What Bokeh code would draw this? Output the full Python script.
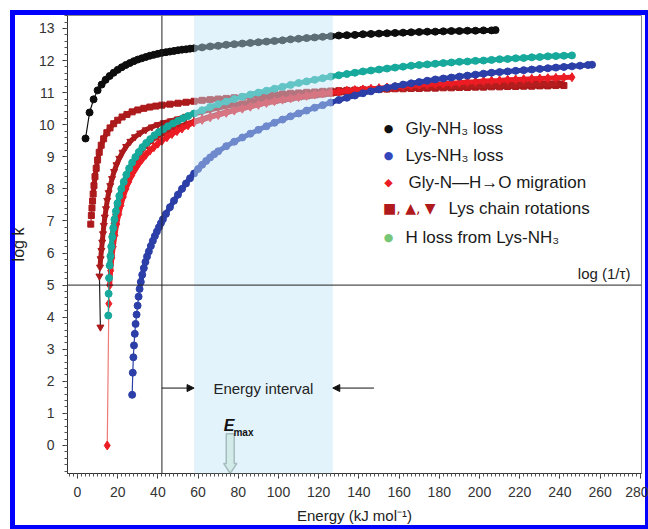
import math
from bokeh.plotting import figure
from bokeh.models import (Range1d, Span, BoxAnnotation, Label, Arrow, NormalHead,
                          PolyAnnotation, SingleIntervalTicker)
from bokeh.embed import file_html
from bokeh.resources import INLINE

# ---------------- data ----------------
# Gly-NH3 loss (black circles)
gly_nh3_E = [4, 6, 8, 10, 12, 14, 16, 18, 20, 22, 24, 26, 28, 30, 32, 34, 36, 38, 40, 42,
             44, 46, 48, 50, 52, 54, 56, 58,
             62, 66, 70, 74, 78, 82, 86, 90, 94, 98, 102, 106, 110, 114, 118, 122, 126, 130,
             134, 138, 142, 146, 150, 154, 158, 162, 166, 170, 174, 178, 182, 186, 190, 194,
             198, 202, 206, 208]
gly_nh3_logk = [9.57, 10.38, 10.79, 11.07, 11.25, 11.40, 11.52, 11.62, 11.71, 11.79,
                11.86, 11.92, 11.98, 12.03, 12.07, 12.11, 12.15, 12.18, 12.21, 12.24,
                12.26, 12.28, 12.30, 12.32, 12.34, 12.35, 12.37, 12.38,
                12.41, 12.44, 12.46, 12.49, 12.51, 12.53, 12.55, 12.57, 12.59, 12.61,
                12.63, 12.66, 12.68, 12.70, 12.72, 12.74, 12.76, 12.78, 12.79, 12.80,
                12.82, 12.83, 12.84, 12.85, 12.86, 12.87, 12.88, 12.89, 12.90, 12.90,
                12.91, 12.92, 12.92, 12.93, 12.93, 12.94, 12.94, 12.95]

# Lys-NH3 loss (blue circles)
lys_nh3_E = [27.2, 27.5, 27.8, 28.1, 28.5, 28.9, 29.4, 29.9, 30.4, 30.9, 31.5, 32.2, 33.0,
             33.8, 34.6, 35.5, 36.5, 37.5, 38.5, 39.5, 40.5, 41.5, 42.5,
             44, 46, 48, 50, 52, 54, 56, 58, 60, 62, 64, 66, 68, 70,
             74, 78, 82, 86, 90, 94, 98, 102, 106, 110, 114, 118, 122, 126, 130, 134, 138,
             142, 146, 150, 154, 158, 162, 166, 170, 174, 178, 182, 186, 190, 194, 198, 202,
             206, 210, 214, 218, 222, 226, 230, 234, 238, 242, 246, 250, 254, 256]
lys_nh3_logk = [1.58, 2.27, 2.75, 3.12, 3.48, 3.79, 4.08, 4.36, 4.64, 4.88, 5.10, 5.32, 5.53,
                5.72, 5.89, 6.05, 6.22, 6.38, 6.53, 6.67, 6.80, 6.93, 7.05,
                7.22, 7.43, 7.63, 7.82, 8.00, 8.17, 8.33, 8.48, 8.62, 8.75, 8.87, 8.98, 9.08, 9.17,
                9.33, 9.47, 9.60, 9.72, 9.84, 9.95, 10.06, 10.16, 10.26, 10.35, 10.44, 10.53,
                10.61, 10.69, 10.77, 10.84, 10.91, 10.98, 11.04, 11.10, 11.15, 11.20, 11.25,
                11.29, 11.33, 11.37, 11.41, 11.44, 11.47, 11.50, 11.53, 11.56, 11.59, 11.62,
                11.64, 11.66, 11.68, 11.70, 11.72, 11.74, 11.76, 11.78, 11.80, 11.82, 11.84,
                11.86, 11.87]

# Gly-N-H->O migration (red diamonds)
gly_nho_E = [14.8, 15.6, 16.0, 16.5, 17.1, 17.8, 18.6, 19.5, 20.5, 21.6, 22.8, 24.1, 25.5,
             27.0, 28.6, 30.3, 32.1, 34.0, 36.0, 38.0, 40.0, 42.0, 44.5, 47.0, 49.5, 52.0,
             55.0, 58.0,
             62, 66, 70, 74, 78, 82, 86, 90, 94, 98, 102, 106, 110, 114, 118, 122, 126, 130,
             134, 138, 142, 146, 150, 154, 158, 162, 166, 170, 174, 178, 182, 186, 190, 194,
             198, 202, 206, 210, 214, 218, 222, 226, 230, 234, 238, 242, 246]
gly_nho_logk = [0.00, 4.42, 5.00, 5.45, 5.85, 6.20, 6.55, 6.90, 7.20, 7.48, 7.75, 8.00, 8.22,
                8.42, 8.60, 8.77, 8.92, 9.06, 9.19, 9.30, 9.41, 9.50, 9.61, 9.71, 9.80, 9.88,
                9.98, 10.07,
                10.15, 10.23, 10.30, 10.37, 10.44, 10.50, 10.56, 10.62, 10.68, 10.73,
                10.78, 10.82, 10.86, 10.90, 10.94, 10.97, 11.00, 11.03, 11.06, 11.08,
                11.10, 11.12, 11.14, 11.16, 11.18, 11.20, 11.22, 11.24, 11.25, 11.27,
                11.28, 11.30, 11.31, 11.33, 11.34, 11.36, 11.37, 11.38, 11.40, 11.41,
                11.42, 11.43, 11.44, 11.45, 11.46, 11.47, 11.48]

# Lys chain rotations (dark red squares / down triangles / up triangles)
lys_rot_a_E = [6.6, 6.9, 7.2, 7.5, 7.8, 8.2, 8.7, 9.3, 10.0, 10.8, 11.8, 13.0, 14.6, 16.2,
               18.0, 20.0, 22.2, 24.6, 27.2, 30.0, 33.0, 36.0, 39.0, 42.0, 46, 50, 54, 58,
               62, 66, 70, 74, 78, 82, 86, 90, 94, 98, 102, 106, 110, 114, 118, 122, 126, 130,
               134, 138, 142, 146, 150, 154, 158, 162, 166, 170, 174, 178, 182, 186, 190, 194,
               198, 202, 206, 210, 214, 218, 222, 226, 230, 234, 238, 242]
lys_rot_a_logk = [6.90, 7.17, 7.40, 7.62, 7.84, 8.10, 8.38, 8.64, 8.90, 9.14, 9.36, 9.56,
                  9.75, 9.90, 10.03, 10.14, 10.24, 10.32, 10.40, 10.46, 10.51, 10.55, 10.58,
                  10.61, 10.64, 10.67, 10.70, 10.73,
                  10.76, 10.78, 10.80, 10.82, 10.84, 10.86, 10.88, 10.90, 10.92, 10.94,
                  10.96, 10.98, 10.99, 11.01, 11.02, 11.04, 11.05, 11.06, 11.07, 11.08,
                  11.09, 11.10, 11.10, 11.11, 11.12, 11.12, 11.13, 11.13, 11.14, 11.14,
                  11.15, 11.15, 11.16, 11.16, 11.17, 11.17, 11.18, 11.18, 11.19, 11.19,
                  11.20, 11.20, 11.21, 11.21, 11.22, 11.22]

lys_rot_b_E = [11.4, 10.9, 11.2, 11.5, 11.9, 12.3, 12.7, 13.1, 13.6, 14.2, 14.8, 15.5, 16.3,
               17.2, 18.2, 19.4, 20.8, 22.4, 24.2, 26.3, 28.6, 31.2, 34.0, 37.0, 40.0, 43.0,
               46.5, 50.0, 54.0, 58.0,
               62, 66, 70, 74, 78, 82, 86, 90, 94, 98, 102, 106, 110, 114, 118, 122, 126, 130,
               134, 138, 142, 146, 150, 154, 158, 162, 166, 170, 174, 178, 182, 186, 190, 194,
               198, 202, 206, 210, 214, 218, 222, 226, 230, 234, 238, 240]
lys_rot_b_logk = [3.69, 5.28, 5.56, 5.82, 6.08, 6.34, 6.60, 6.86, 7.12, 7.38, 7.64, 7.88,
                  8.10, 8.32, 8.54, 8.75, 8.95, 9.14, 9.32, 9.48, 9.62, 9.74, 9.84, 9.93,
                  10.00, 10.06, 10.12, 10.18, 10.26, 10.33,
                  10.40, 10.46, 10.52, 10.57, 10.62, 10.66, 10.70, 10.74, 10.78, 10.82,
                  10.85, 10.88, 10.91, 10.94, 10.97, 10.99, 11.01, 11.03, 11.05, 11.07,
                  11.09, 11.10, 11.12, 11.13, 11.15, 11.16, 11.17, 11.18, 11.19, 11.20,
                  11.21, 11.22, 11.23, 11.24, 11.24, 11.25, 11.26, 11.26, 11.27, 11.27,
                  11.28, 11.28, 11.29, 11.29, 11.30, 11.30]

lys_rot_c_E = [16.2, 16.6, 17.1, 17.7, 18.4, 19.2, 20.1, 21.1, 22.3, 23.7, 25.3, 27.1, 29.1,
               31.3, 33.7, 36.3, 39.0, 42.0, 45.0, 48.0, 51.0, 54.0, 58.0,
               62, 66, 70, 74, 78, 82, 86, 90, 94, 98, 102, 106, 110, 114, 118, 122, 126, 130,
               134, 138, 142, 146, 150, 154, 158, 162, 166, 170, 174, 178, 182, 186, 190, 194,
               198, 202, 206, 210, 214, 218, 222, 226, 230, 234, 238]
lys_rot_c_logk = [5.67, 5.97, 6.30, 6.65, 6.97, 7.25, 7.52, 7.76, 7.99, 8.26, 8.50, 8.73,
                  8.94, 9.14, 9.32, 9.48, 9.60, 9.71, 9.80, 9.88, 9.95, 10.02, 10.10,
                  10.18, 10.26, 10.33, 10.40, 10.46, 10.52, 10.58, 10.63, 10.68, 10.72,
                  10.76, 10.80, 10.84, 10.87, 10.90, 10.93, 10.96, 10.99, 11.01, 11.03,
                  11.05, 11.07, 11.09, 11.10, 11.12, 11.13, 11.14, 11.15, 11.16, 11.17,
                  11.18, 11.19, 11.20, 11.21, 11.22, 11.22, 11.23, 11.23, 11.24, 11.24,
                  11.25, 11.25, 11.26, 11.26, 11.27]

# H loss from Lys-NH3 (teal circles)
h_loss_E = [15.3, 15.5, 15.7, 16.0, 16.4, 16.8, 17.3, 17.8, 18.4, 19.1, 19.9, 20.8, 21.8,
            23.0, 24.3, 25.7, 27.2, 28.8, 30.5, 32.3, 34.2, 36.2, 38.3, 40.5, 42.7, 45.0,
            47.5, 50.0, 52.5, 55.0, 58,
            62, 66, 70, 74, 78, 82, 86, 90, 94, 98, 102, 106, 110, 114, 118, 122, 126, 130,
            134, 138, 142, 146, 150, 154, 158, 162, 166, 170, 174, 178, 182, 186, 190, 194,
            198, 202, 206, 210, 214, 218, 222, 226, 230, 234, 238, 242, 246]
h_loss_logk = [4.05, 4.73, 5.22, 5.61, 5.90, 6.20, 6.50, 6.78, 7.05, 7.30, 7.55, 7.78, 8.00,
               8.22, 8.44, 8.64, 8.82, 8.99, 9.15, 9.30, 9.43, 9.55, 9.67, 9.77, 9.86, 9.95,
               10.04, 10.12, 10.20, 10.27, 10.35,
               10.45, 10.55, 10.64, 10.72, 10.80, 10.87, 10.94, 11.00, 11.06, 11.12,
               11.18, 11.24, 11.30, 11.35, 11.40, 11.45, 11.50, 11.54, 11.58, 11.62,
               11.66, 11.69, 11.72, 11.75, 11.78, 11.81, 11.84, 11.86, 11.88, 11.90,
               11.92, 11.94, 11.96, 11.97, 11.99, 12.00, 12.02, 12.04, 12.05, 12.07,
               12.08, 12.10, 12.11, 12.13, 12.14, 12.15, 12.16]

LOG_INV_TAU = 5.0            # log(1/tau)
E_MARK = 42                  # vertical reference line
INTERVAL = (58, 127)         # energy interval
E_MAX = 76

# ---------------- figure ----------------
FONT = "Liberation Sans"
p = figure(width=648, height=529, output_backend="svg", toolbar_location=None,
           x_range=Range1d(-4.975, 280.6), y_range=Range1d(-0.873, 13.404),
           min_border_left=67, min_border_right=7, min_border_top=15, min_border_bottom=56)
p.border_fill_color = None
p.background_fill_color = None
p.outline_line_color = "#8a8a8a"
p.grid.visible = False
# blue picture frame (left/top fully visible, right/bottom cut as in the original)
p.styles = {"box-shadow": "inset 10px 10px 0 0 #ffffff, inset 15px 15px 0 0 #0000ff, "
                          "inset -3px -4px 0 0 #0000ff"}

p.xaxis.ticker = SingleIntervalTicker(interval=20, num_minor_ticks=10)
p.yaxis.ticker = SingleIntervalTicker(interval=1, num_minor_ticks=5)
for ax in (p.xaxis, p.yaxis):
    ax.axis_line_color = "#333333"
    ax.major_tick_line_color = "#333333"
    ax.minor_tick_line_color = "#555555"
    ax.major_tick_out = 5
    ax.major_tick_in = 0
    ax.minor_tick_out = 3
    ax.minor_tick_in = 0
    ax.major_label_text_font = FONT
    ax.major_label_text_font_size = "14px"
    ax.major_label_text_color = "#333333"
    ax.major_label_standoff = 8
    ax.axis_label_text_font = FONT
    ax.axis_label_text_font_style = "normal"
    ax.axis_label_text_color = "#222222"

p.xaxis.axis_label = "Energy (kJ mol⁻¹)"
p.xaxis.axis_label_text_font_size = "15px"
p.xaxis.axis_label_standoff = 7
p.yaxis.axis_label = "log k"
p.yaxis.axis_label_text_font_size = "16px"
p.yaxis.axis_label_standoff = 9

# (x, y, marker colour, thin-line colour, marker, size, index where the dense band starts)
series = [
    (lys_rot_a_E, lys_rot_a_logk, "#ac1a1c", "#ac1a1c", "square", 6, 4),
    (lys_rot_b_E, lys_rot_b_logk, "#ac1a1c", "#222222", "inverted_triangle", 7, 2),
    (lys_rot_c_E, lys_rot_c_logk, "#b51e1e", "#b51e1e", "triangle", 7, 0),
    (gly_nho_E, gly_nho_logk, "#ec1c24", "#f07878", "diamond", 9, 2),
    (lys_nh3_E, lys_nh3_logk, "#2c3fa8", "#2c3fa8", "circle", 7, 9),
    (h_loss_E, h_loss_logk, "#17a99b", "#17a99b", "circle", 7, 3),
    (gly_nh3_E, gly_nh3_logk, "#0d0d0d", "#0d0d0d", "circle", 7, 4),
]
for xs, ys, col, lcol, mk, sz, k in series:
    if len(xs) != len(ys):
        raise ValueError("length mismatch %d %d" % (len(xs), len(ys)))
    p.line(xs, ys, line_color=lcol, line_width=1.2)
    p.line(xs[k:], ys[k:], line_color=col, line_width=5, line_join="round")
    p.scatter(xs, ys, marker=mk, size=sz, fill_color=col, line_color=col)

# shaded energy interval (drawn over the curves, like the original)
p.add_layout(BoxAnnotation(left=INTERVAL[0], right=INTERVAL[1], fill_color="#bee4f8",
                           fill_alpha=0.45, line_alpha=0))
p.add_layout(Span(location=E_MARK, dimension="height", line_color="#222222", line_width=1))
p.add_layout(Span(location=LOG_INV_TAU, dimension="width", line_color="#222222", line_width=1))

# energy interval arrows and label
ARROW_Y = 1.79
p.add_layout(Arrow(end=NormalHead(size=7, fill_color="#111111", line_color="#111111"),
                   x_start=E_MARK, y_start=ARROW_Y, x_end=INTERVAL[0], y_end=ARROW_Y,
                   line_color="#111111", line_width=1))
p.add_layout(Arrow(end=NormalHead(size=7, fill_color="#111111", line_color="#111111"),
                   x_start=147.5, y_start=ARROW_Y, x_end=INTERVAL[1], y_end=ARROW_Y,
                   line_color="#111111", line_width=1))
p.add_layout(Label(x=sum(INTERVAL) / 2, y=ARROW_Y, text="Energy interval", text_font=FONT,
                   text_font_size="15px", text_color="#222222", text_align="center",
                   text_baseline="middle"))

# E_max hollow arrow
y0 = p.y_range.start
p.add_layout(PolyAnnotation(
    xs=[E_MAX - 2, E_MAX + 2, E_MAX + 2, E_MAX + 3.3, E_MAX, E_MAX - 3.3, E_MAX - 2],
    ys=[0.37, 0.37, -0.56, -0.56, y0, -0.56, -0.56],
    fill_color="#d3ebe8", fill_alpha=1, line_color="#2c4a4a", line_width=1.5))
p.add_layout(Label(x=E_MAX - 0.6, y=0.62, text="E", text_font=FONT, text_font_size="16px",
                   text_font_style="bold italic", text_color="#111111", text_align="center",
                   text_baseline="middle"))
p.add_layout(Label(x=E_MAX + 1.6, y=0.42, text="max", text_font=FONT, text_font_size="10px",
                   text_font_style="bold", text_color="#111111", text_align="left",
                   text_baseline="middle"))

# log(1/tau) label
p.add_layout(Label(x=275.1, y=5.36, text="log (1/τ)", text_font=FONT, text_font_size="15px",
                   text_color="#222222", text_align="right", text_baseline="middle"))

# legend
LEG_MARK_X, LEG_TEXT_X = 154.7, 163.2
rows = [
    ("●", "#111111", "Gly-NH₃ loss", 9.88, LEG_TEXT_X),
    ("●", "#3446bb", "Lys-NH₃ loss", 9.04, LEG_TEXT_X),
    ("◆", "#ec1c24", "Gly-N—H→O migration", 8.20, 164.7),
    (None, "#b01a1c", "Lys chain rotations", 7.39, 184.6),
    ("●", "#78c678", "H loss from Lys-NH₃", 6.48, LEG_TEXT_X),
]
for sym, col, txt, ly, tx in rows:
    if sym is not None:
        p.add_layout(Label(x=LEG_MARK_X, y=ly, text=sym, text_font="DejaVu Sans",
                           text_font_size="11px", text_color=col, text_align="center",
                           text_baseline="middle"))
    else:
        p.add_layout(Label(x=152.0, y=ly, text="■, ▲, ▼", text_font="DejaVu Sans",
                           text_font_size="14px", text_color=col, text_align="left",
                           text_baseline="middle"))
    p.add_layout(Label(x=tx, y=ly, text=txt, text_font=FONT, text_font_size="17px",
                       text_color="#1a1a1a", text_align="left", text_baseline="middle"))

open("out.html", "w").write(file_html(p, INLINE))
